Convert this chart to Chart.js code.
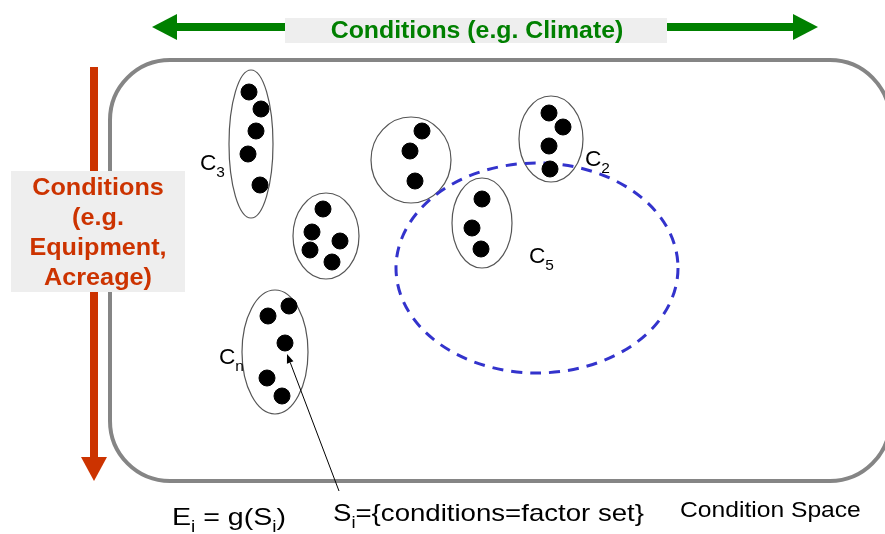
<!DOCTYPE html>
<html>
<head>
<meta charset="utf-8">
<script src="https://cdn.jsdelivr.net/npm/chart.js@4/dist/chart.umd.min.js"></script>
<style>
  body { margin: 0; background: #fff; }
  canvas { display: block; }
</style>
</head>
<body>
<canvas id="grafico" width="885" height="534"></canvas>
<script>
// pontos (x, y no espaço da figura)
const dotX = [249, 261, 256, 248, 260,  323, 312, 340, 310, 332,  422, 410, 415,  549, 563, 549, 550,  482, 472, 481,  268, 289, 285, 267, 282];
const dotY = [92, 109, 131, 154, 185,  209, 232, 241, 250, 262,  131, 151, 181,  113, 127, 146, 169,  199, 228, 249,  316, 306, 343, 378, 396];

// clusters (elipses)
const clusterCx = [251, 326, 411, 551, 482, 275];
const clusterCy = [144, 236, 160, 139, 223, 352];
const clusterRx = [22, 33, 40, 32, 30, 33];
const clusterRy = [74, 43, 43, 43, 45, 62];

// rótulos dos clusters
const labelText = ['C', 'C', 'C', 'C'];
const labelSub = ['3', '2', '5', 'n'];
const labelX = [200, 585, 529, 219];
const labelY = [164, 160, 257, 358];

// elipse tracejada (C5)
const c5 = { cx: 537, cy: 268, rx: 141, ry: 105 };

const eixoX = 'Conditions (e.g. Climate)';
const eixoY = ['Conditions', '(e.g.', 'Equipment,', 'Acreage)'];

const fonte = '"Liberation Sans", Arial, sans-serif';

function seta(ctx, x1, y1, x2, y2, largura, cabeca, larguraCabeca, cor) {
    const ang = Math.atan2(y2 - y1, x2 - x1);
    const bx = x2 - cabeca * Math.cos(ang);
    const by = y2 - cabeca * Math.sin(ang);
    ctx.strokeStyle = cor;
    ctx.fillStyle = cor;
    ctx.lineWidth = largura;
    ctx.beginPath();
    ctx.moveTo(x1, y1);
    ctx.lineTo(bx, by);
    ctx.stroke();
    ctx.beginPath();
    ctx.moveTo(x2, y2);
    ctx.lineTo(bx + larguraCabeca / 2 * Math.sin(ang), by - larguraCabeca / 2 * Math.cos(ang));
    ctx.lineTo(bx - larguraCabeca / 2 * Math.sin(ang), by + larguraCabeca / 2 * Math.cos(ang));
    ctx.closePath();
    ctx.fill();
}

// texto com partes subscritas, esticado horizontalmente (sx)
function texto(ctx, partes, x, y, tam, sx, peso, align) {
    const fNormal = peso + ' ' + tam + 'px ' + fonte;
    const fSub = peso + ' ' + Math.round(tam * 0.66) + 'px ' + fonte;
    let total = 0;
    partes.forEach(p => {
        ctx.font = p.sub ? fSub : fNormal;
        total += ctx.measureText(p.t).width;
    });
    ctx.save();
    ctx.translate(x, y);
    ctx.scale(sx, 1);
    let cx = align === 'center' ? -total / 2 : 0;
    ctx.textAlign = 'left';
    ctx.textBaseline = 'middle';
    partes.forEach(p => {
        ctx.font = p.sub ? fSub : fNormal;
        ctx.fillText(p.t, cx, p.sub ? tam * 0.4 : 0);
        cx += ctx.measureText(p.t).width;
    });
    ctx.restore();
}

const desenhoPlugin = {
    id: 'desenho',
    beforeDatasetsDraw(chart) {
        const ctx = chart.ctx;
        const sx = chart.scales.x, sy = chart.scales.y;
        const px = v => sx.getPixelForValue(v);
        const py = v => sy.getPixelForValue(v);
        ctx.save();

        // retângulo arredondado (espaço de condições)
        ctx.strokeStyle = '#858585';
        ctx.lineWidth = 4;
        ctx.beginPath();
        ctx.roundRect(px(110), py(60), px(890) - px(110), py(481) - py(60), 60);
        ctx.stroke();

        // seta verde
        seta(ctx, px(480), py(27), px(152), py(27), 8, 25, 26, '#008000');
        seta(ctx, px(480), py(27), px(818), py(27), 8, 25, 26, '#008000');
        ctx.fillStyle = '#eeeeee';
        ctx.fillRect(px(285), py(18), px(667) - px(285), py(43) - py(18));
        ctx.fillStyle = '#008000';
        texto(ctx, [{ t: eixoX }], px(477), py(32), 23, 1.08, 'bold', 'center');

        // seta vermelha
        seta(ctx, px(94), py(67), px(94), py(481), 8, 24, 26, '#cc3300');
        ctx.fillStyle = '#eeeeee';
        ctx.fillRect(px(11), py(171), px(185) - px(11), py(292) - py(171));
        ctx.fillStyle = '#cc3300';
        eixoY.forEach((t, i) => texto(ctx, [{ t }], px(98), py(188 + i * 30), 24, 1.05, 'bold', 'center'));

        // elipses dos clusters
        ctx.strokeStyle = '#555555';
        ctx.lineWidth = 1.2;
        for (let i = 0; i < clusterCx.length; i++) {
            ctx.beginPath();
            ctx.ellipse(px(clusterCx[i]), py(clusterCy[i]),
                px(clusterRx[i]) - px(0), py(clusterRy[i]) - py(0), 0, 0, Math.PI * 2);
            ctx.stroke();
        }

        // rótulos
        ctx.fillStyle = '#000';
        for (let i = 0; i < labelText.length; i++) {
            texto(ctx, [{ t: labelText[i] }, { t: labelSub[i], sub: true }],
                px(labelX[i]), py(labelY[i]), 22, 1.03, 'normal', 'left');
        }

        // seta fina para o ponto
        seta(ctx, px(339), py(491), px(287), py(354), 1, 9, 7, '#000');

        // textos inferiores
        ctx.fillStyle = '#000';
        texto(ctx, [{ t: 'E' }, { t: 'i', sub: true }, { t: ' = g(S' }, { t: 'i', sub: true }, { t: ')' }],
            px(172), py(518), 24, 1.19, 'normal', 'left');
        texto(ctx, [{ t: 'S' }, { t: 'i', sub: true }, { t: '={conditions=factor set}' }],
            px(333), py(514), 24, 1.15, 'normal', 'left');
        texto(ctx, [{ t: 'Condition Space' }], px(680), py(511), 22, 1.12, 'normal', 'left');

        // elipse tracejada
        ctx.strokeStyle = '#3333cc';
        ctx.lineWidth = 3;
        ctx.setLineDash([11, 8]);
        ctx.beginPath();
        ctx.ellipse(px(c5.cx), py(c5.cy), px(c5.rx) - px(0), py(c5.ry) - py(0), 0, 0, Math.PI * 2);
        ctx.stroke();
        ctx.restore();
    }
};

new Chart(document.getElementById('grafico'), {
    type: 'scatter',
    data: {
        datasets: [{
            data: dotX.map((x, i) => ({ x, y: dotY[i] })),
            backgroundColor: '#000',
            borderColor: '#000',
            pointRadius: 8,
            pointHoverRadius: 8
        }]
    },
    options: {
        responsive: false,
        animation: false,
        layout: { padding: 0, autoPadding: false },
        plugins: { legend: { display: false }, tooltip: { enabled: false } },
        scales: {
            x: { type: 'linear', min: 0, max: 885, display: false },
            y: { type: 'linear', min: 0, max: 534, reverse: true, display: false }
        }
    },
    plugins: [desenhoPlugin]
});
</script>
</body>
</html>
